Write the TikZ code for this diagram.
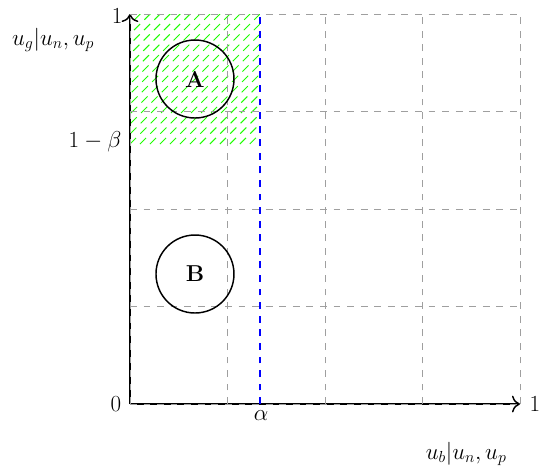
\documentclass[tikz,border=0pt]{standalone}
\usetikzlibrary{arrows.meta}
\begin{document}
\begin{tikzpicture}[x=10.3cm,y=10.3cm,
  every node/.style={font=\LARGE},
  gridline/.style={gray!75, line width=0.7pt, dash pattern=on 5.1pt off 5.1pt},
  axisline/.style={line width=1.1pt, black, -{To[scale=1.5]}},
  hatchline/.style={green!85!lime, line width=0.7pt, dash pattern=on 6.5pt off 4.5pt},
  circ/.style={draw, circle, line width=1.1pt, minimum size=2.06cm, inner sep=0pt, font=\LARGE\bfseries}]
\useasboundingbox (-0.3333,-0.1564) rectangle (1.0564,1.0359);
% hatched region
\begin{scope}
  \clip (0,2/3) rectangle (1/3,1);
  \foreach \k in {-40,...,40} {
    \draw[hatchline] (\k*0.0256,2/3) -- ++(0.4,0.4);
  }
\end{scope}
% axes
\coordinate (O) at (0,0);
\coordinate (X) at (1,0);
\coordinate (Y) at (0,1);
\draw[axisline] (O) -- (X);
\draw[axisline] (O) -- (Y);
% grid
\draw[gridline] (0,0) grid[step=0.25] (1,1);
% alpha line
\coordinate (a0) at (1/3,0);
\coordinate (a1) at (1/3,1);
\draw[blue, line width=1.2pt, dash pattern=on 5.1pt off 5.1pt] (a0) -- (a1);
% circles
\node[circ] (A) at (1/6,5/6) {A};
\node[circ] (B) at (1/6,1/3) {B};
% labels
\node (l0) at (-0.036,0) {$0$};
\node (lx1) at (1.038,0) {$1$};
\node (ly1) at (-0.033,0.995) {$1$};
\node (lal) at (0.336,-0.029) {$\alpha$};
\node (lb) at (-0.0897,0.672) {$1-\beta$};
\node (ug) at (-0.197,0.933) {$u_g|u_n,u_p$};
\node (ub) at (0.862,-0.128) {$u_b|u_n,u_p$};
\end{tikzpicture}
\end{document}
